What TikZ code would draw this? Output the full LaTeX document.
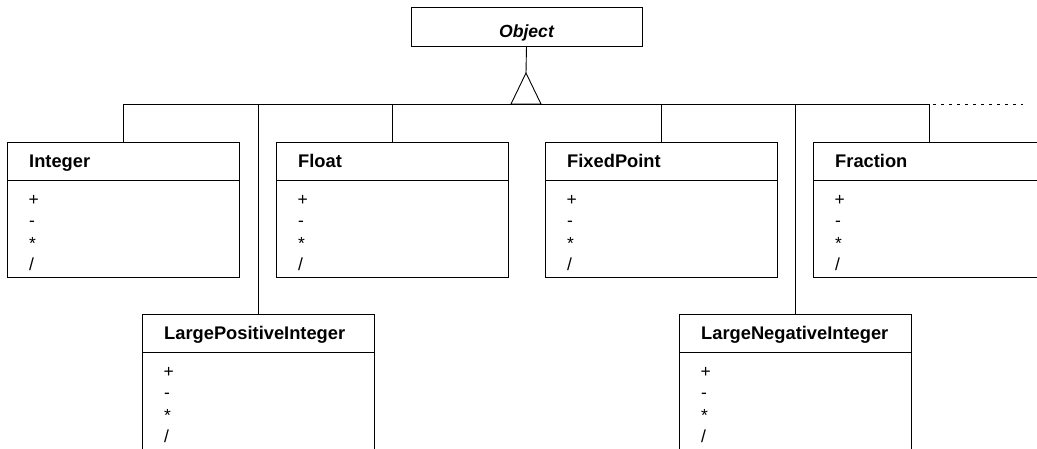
\documentclass[tikz,border=0pt]{standalone}
\usepackage{fontspec}
\setmainfont{Liberation Sans}
\usetikzlibrary{calc}
\tikzset{
  ln/.style={line width=0.9pt, black},
  hdr/.style={ln, draw, rectangle, anchor=north west, minimum width=232pt, minimum height=38pt, inner sep=0pt, outer sep=0pt},
  bodyb/.style={ln, draw, rectangle, anchor=north west, minimum width=232pt, minimum height=97pt, inner sep=0pt, outer sep=0pt},
  ttl/.style={anchor=base west, inner sep=0pt, font=\fontsize{18.3}{21}\selectfont\bfseries},
  op/.style={anchor=base west, inner sep=0pt, font=\fontsize{17.5}{20}\selectfont},
  objbox/.style={ln, draw, rectangle, anchor=north west, minimum width=231pt, minimum height=39pt, inner sep=0pt, outer sep=0pt},
}
\newcommand\umlcls[4]{%
  \node[hdr] (#1) at (#2,#3) {};
  \node[bodyb] (#1-b) at (#1.south west) {};
  \node[ttl] (#1-t) at ($(#1.north west)+(22,25.3)$) {#4};
  \node[op] (#1-p) at ($(#1.north west)+(21.5,63.5)$) {+};
  \node[op] (#1-m) at ($(#1.north west)+(22,84.5)$) {-};
  \node[op] (#1-s) at ($(#1.north west)+(22,107)$) {*};
  \node[op] (#1-d) at ($(#1.north west)+(22,128.5)$) {/};
}
\begin{document}
\begin{tikzpicture}[x=1pt,y=-1pt]
\useasboundingbox (0,0) rectangle (1037,448);
\clip (0,0) rectangle (1037,448);
% Object
\node[objbox] (obj) at (411,7) {};
\node[anchor=base, inner sep=0pt, font=\fontsize{17.6}{20}\selectfont\bfseries\itshape] (obj-t) at ($(obj.north)+(0,30.5)$) {Object};
% classes
\umlcls{int}{7}{142}{Integer}
\umlcls{flt}{276}{142}{Float}
\umlcls{fix}{545}{142}{FixedPoint}
\umlcls{frac}{813}{142}{Fraction}
\umlcls{lpi}{142}{314}{LargePositiveInteger}
\umlcls{lni}{679}{314}{LargeNegativeInteger}
% inheritance
\coordinate (bus) at (0,104);
\coordinate (apex) at (526,73);
\coordinate (busend) at (1023,104);
\draw[ln] (obj.south) -- (apex);
\draw[ln] (apex) -- (511,104) -- (541,104) -- cycle;
\draw[ln] (int.north) |- (frac.north |- bus) -- (frac.north);
\draw[ln] (flt.north) -- (flt.north |- bus);
\draw[ln] (fix.north) -- (fix.north |- bus);
\draw[ln] (lpi.north) -- (lpi.north |- bus);
\draw[ln] (lni.north) -- (lni.north |- bus);
\draw[ln, dash pattern=on 3pt off 5pt] ($(frac.north |- bus)+(4,0)$) -- (busend);
\end{tikzpicture}
\end{document}
